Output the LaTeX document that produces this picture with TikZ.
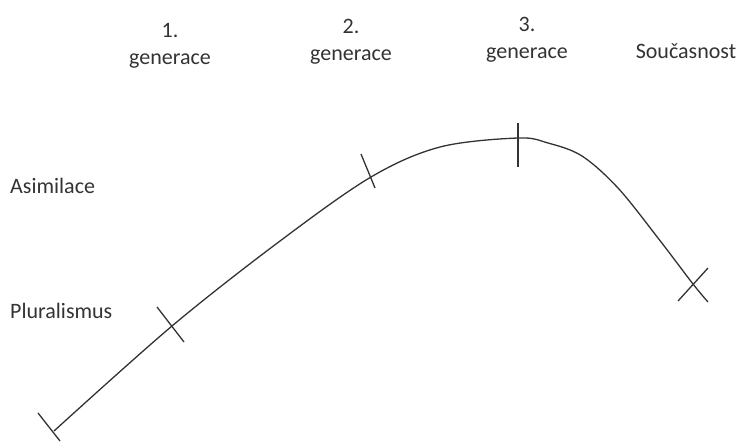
\documentclass[tikz,border=0pt]{standalone}
\usepackage{fontspec}
\setmainfont{Carlito}
\usetikzlibrary{calc}
\tikzset{
  gen/.style={
    align=center,
    inner sep=0pt,
    font=\fontsize{22}{27}\selectfont,
    text=black!80
  },
  level/.style={
    anchor=base west,
    inner sep=0pt,
    font=\fontsize{22}{27}\selectfont,
    text=black!80
  },
  curve/.style={
    line width=1.3pt,
    black!80
  },
  tick/.style={
    line width=1.3pt,
    black!80
  }
}
\begin{document}
\begin{tikzpicture}[x=1pt,y=-1pt]
\useasboundingbox (0,0) rectangle (741,442);
% labels
\node[gen] (g1) at (170,46) {1.\\generace};
\node[gen] (g2) at (351,42) {2.\\generace};
\node[gen] (g3) at (527,40) {3.\\generace};
\node[gen, anchor=base] (now) at (686,58) {Současnost};
\node[level] (asim) at (10,193) {Asimilace};
\node[level] (plur) at (10,318) {Pluralismus};
% points on the curve
\coordinate (p0) at (54,431);
\coordinate (p1) at (172,326);
\coordinate (p2) at (371,177);
\coordinate (p3) at (518,138);
\coordinate (p4) at (693,284);
\draw[curve] plot[smooth, tension=0.55] coordinates {
  (p0) (p1) (280,241) (p2) (440,147) (p3) (548,143) (582,156)
  (618,188) (658,238) (p4) (708,302)};
% ticks
\draw[tick] ($(p0)+(-16,-18)$) -- ($(p0)+(6,10)$);
\draw[tick] ($(p1)+(-15,-19)$) -- ($(p1)+(12,16)$);
\draw[tick] ($(p2)+(-10,-23)$) -- ($(p2)+(4,11)$);
\draw[tick] ($(p3)+(0,-15)$) -- ($(p3)+(0,29)$);
\draw[tick] ($(p4)+(-15,17)$) -- ($(p4)+(15,-16)$);
\end{tikzpicture}
\end{document}
